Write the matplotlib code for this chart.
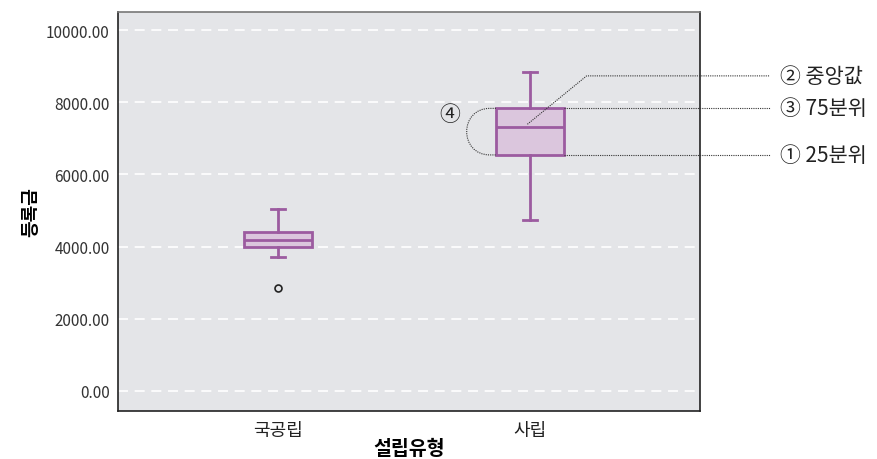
import matplotlib
matplotlib.use('Agg')
import matplotlib.pyplot as plt
import matplotlib.transforms as mtransforms
from matplotlib.path import Path
from matplotlib.patches import PathPatch

plt.rcParams['font.family'] = ['Noto Sans CJK KR', 'DejaVu Sans']

# ---------------------------------------------------------------------------
# data
categories = ['국공립', '사립']
whisker_lo = [3700, 4740]
q1 = [3980, 6540]
median = [4190, 7300]
q3 = [4410, 7830]
whisker_hi = [5040, 8850]
outliers = [[2850], []]

y_ticks = [0, 2000, 4000, 6000, 8000, 10000]
y_ticklabels = [f'{v:.2f}' for v in y_ticks]

notes = ['② 중앙값', '③ 75분위', '① 25분위']

# ---------------------------------------------------------------------------
EDGE = '#9c5ba0'
FILL = '#dbc6dd'
BG = '#e4e5e8'
INK = '#333333'

fig = plt.figure(figsize=(8.78, 4.6), dpi=100)
ax = fig.add_axes([118 / 878, 48 / 460, 582 / 878, 399 / 460])
ax.set_facecolor(BG)

positions = list(range(len(categories)))
box_w = 0.27
stats = []
for i, name in enumerate(categories):
    stats.append(dict(label=name, whislo=whisker_lo[i], q1=q1[i], med=median[i],
                      q3=q3[i], whishi=whisker_hi[i], fliers=outliers[i]))

ax.bxp(stats, positions=positions, widths=box_w, capwidths=0.055,
       patch_artist=True,
       boxprops=dict(facecolor=FILL, edgecolor=EDGE, linewidth=2),
       medianprops=dict(color=EDGE, linewidth=2),
       whiskerprops=dict(color=EDGE, linewidth=2),
       capprops=dict(color=EDGE, linewidth=2),
       flierprops=dict(marker='o', markersize=5, markerfacecolor='none',
                       markeredgecolor='#222222', markeredgewidth=1.2),
       zorder=3)

xlim = (-0.635, 1.675)
ax.set_xlim(*xlim)
ax.set_ylim(-555, 10500)
ax.set_yticks(y_ticks)
ax.set_yticklabels(y_ticklabels, fontsize=11, color=INK)
ax.set_xticks(positions)
ax.set_xticklabels(categories, fontsize=13, color='#222222')
ax.tick_params(axis='both', length=0, pad=6)
ax.tick_params(axis='x', pad=7)

ax.yaxis.grid(True, color='white', linestyle=(0, (6, 4)), linewidth=1.2, zorder=0)
ax.set_axisbelow(True)

for s in ['left', 'bottom', 'right']:
    ax.spines[s].set_color('#222222')
    ax.spines[s].set_linewidth(1.2)
ax.spines['top'].set_color('#777777')
ax.spines['top'].set_linewidth(1.2)

ax.set_xlabel('설립유형', fontsize=14, fontweight='bold', labelpad=0)
ax.set_ylabel('등록금', fontsize=13, fontweight='bold', labelpad=4)

# ---------------------------------------------------------------------------
# annotations for the second box
k = 1
right_edge = positions[k] + box_w / 2
left_edge = positions[k] - box_w / 2


def frac_to_x(f):
    return xlim[0] + f * (xlim[1] - xlim[0])


line_end = frac_to_x(1.12)
mixed = mtransforms.blended_transform_factory(ax.transAxes, ax.transData)
text_x = 1.137
dot = dict(color=INK, linestyle=(0, (1, 1)), linewidth=0.8, clip_on=False, zorder=5)

# median: diagonal leader then horizontal
elbow_x = positions[k] + 0.225
elbow_y = q3[k] + 0.5 * (whisker_hi[k] - q3[k]) + 390
ax.plot([positions[k] - 0.01, elbow_x, line_end],
        [median[k] + 90, elbow_y, elbow_y], **dot)
ax.text(text_x, elbow_y, notes[0], transform=mixed, fontsize=15,
        va='center', ha='left', color='#222222')

# 75th / 25th percentiles
for val, note in [(q3[k], notes[1]), (q1[k], notes[2])]:
    ax.plot([right_edge, line_end], [val, val], **dot)
    ax.text(text_x, val, note, transform=mixed, fontsize=15,
            va='center', ha='left', color='#222222')

# IQR bracket (4): short arm + rounded bulge, built in pixel space
top = ax.transData.transform((left_edge, q3[k]))
bot = ax.transData.transform((left_edge, q1[k]))
arm, bulge = 6, 31
verts = [tuple(top), (top[0] - arm, top[1]),
         (top[0] - arm - bulge, top[1]), (bot[0] - arm - bulge, bot[1]), (bot[0] - arm, bot[1]),
         tuple(bot)]
codes = [Path.MOVETO, Path.LINETO, Path.CURVE4, Path.CURVE4, Path.CURVE4, Path.LINETO]
ax.add_artist(PathPatch(Path(verts, codes), transform=mtransforms.IdentityTransform(),
                        facecolor='none', edgecolor=INK, linestyle=(0, (1, 1)),
                        linewidth=0.8, zorder=5, clip_on=False))
ax.annotate('④', xy=(left_edge, q3[k]), xytext=(-33, -4), textcoords='offset points',
            fontsize=15, ha='center', va='center', color='#222222')

fig.savefig('out.png', dpi=100)
